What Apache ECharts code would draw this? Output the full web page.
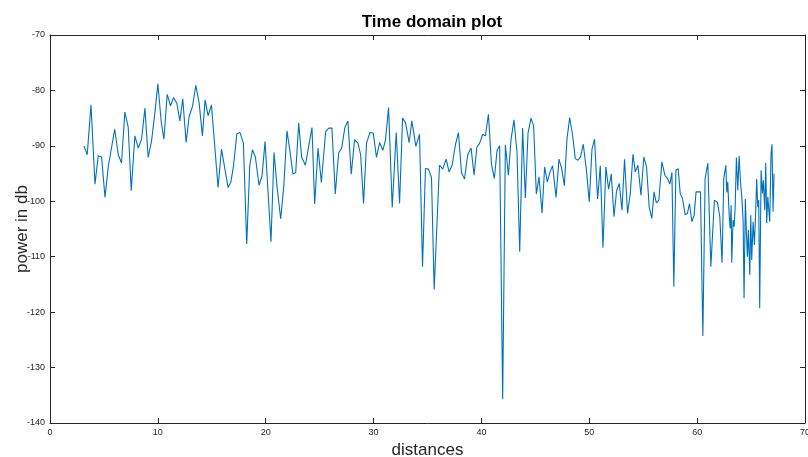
<!DOCTYPE html>
<html>
<head>
<meta charset="utf-8">
<script src="https://cdn.jsdelivr.net/npm/echarts@6/dist/echarts.min.js"></script>
<style>
  html, body { margin: 0; padding: 0; background: #ffffff; }
  #chart { width: 808px; height: 457px; }
</style>
</head>
<body>
<div id="chart"></div>
<script>
// Measured power (dB) against distance
const distances = [
  3.15, 3.45, 3.8, 4.17, 4.47, 4.78, 5.1, 5.4, 6.0, 6.33, 6.63, 6.94, 7.25, 7.53, 7.87, 8.18,
  8.49, 8.8, 9.1, 9.41, 9.72, 10.0, 10.31, 10.56, 10.87, 11.17, 11.45, 11.76, 12.04, 12.31,
  12.62, 12.9, 13.21, 13.52, 13.83, 14.13, 14.38, 14.66, 14.97, 15.58, 15.9, 16.51, 16.76,
  17.0, 17.33, 17.62, 17.93, 18.24, 18.52, 18.77, 19.04, 19.38, 19.66, 19.94, 20.49, 20.77,
  21.05, 21.39, 21.67, 21.97, 22.25, 22.53, 22.78, 23.06, 23.33, 23.68, 23.98, 24.29, 24.54,
  24.85, 25.16, 25.56, 25.86, 26.14, 26.45, 26.76, 27.04, 27.34, 27.62, 27.93, 28.24, 28.55,
  28.8, 29.07, 29.35, 29.66, 29.97, 30.27, 30.56, 30.86, 31.11, 31.39, 31.73, 32.1, 32.41,
  32.69, 32.96, 33.3, 33.55, 33.92, 34.26, 34.54, 34.81, 35.09, 35.37, 35.62, 36.11, 36.42,
  36.73, 37.0, 37.28, 37.59, 37.87, 38.15, 38.43, 38.73, 39.04, 39.32, 39.57, 39.84, 40.12,
  40.37, 40.65, 40.93, 41.2, 41.45, 41.69, 41.97, 42.22, 42.5, 42.75, 43.02, 43.3, 43.55,
  43.82, 44.07, 44.32, 44.6, 44.84, 45.09, 45.34, 45.62, 45.86, 46.11, 46.36, 46.6, 46.92,
  47.19, 47.44, 47.69, 47.93, 48.18, 48.45, 48.7, 48.95, 49.19, 49.44, 49.72, 50.0, 50.25,
  50.49, 50.77, 51.02, 51.27, 51.54, 51.79, 52.04, 52.29, 52.53, 52.78, 53.03, 53.27, 53.55,
  53.8, 54.05, 54.26, 54.51, 54.79, 55.06, 55.31, 55.56, 55.8, 56.0, 56.22, 56.45, 56.73,
  57.01, 57.25, 57.47, 57.66, 57.84, 58.03, 58.24, 58.43, 58.64, 58.89, 59.1, 59.29, 59.51,
  59.72, 59.9, 60.12, 60.31, 60.53, 60.74, 60.99, 61.27, 61.6, 61.88, 62.1, 62.31, 62.47,
  62.66, 62.75, 62.84, 62.96, 63.06, 63.15, 63.21, 63.33, 63.43, 63.52, 63.64, 63.77, 63.89,
  64.01, 64.14, 64.26, 64.35, 64.47, 64.57, 64.66, 64.75, 64.88, 64.97, 65.06, 65.19, 65.31,
  65.43, 65.52, 65.62, 65.71, 65.8, 65.93, 66.05, 66.14, 66.27, 66.36, 66.45, 66.55, 66.64,
  66.73, 66.85, 66.94, 67.04, 67.13
];

const powerDb = [
  -90.0, -91.6, -82.6, -96.9, -91.8, -92.0, -99.3, -93.8, -87.0, -91.6, -93.1, -83.9, -86.6, -98.1, -88.2, -90.4,
  -88.8, -83.2, -92.1, -89.2, -84.1, -78.8, -85.6, -88.8, -80.7, -82.8, -81.3, -82.3, -85.5, -81.5,
  -89.4, -84.7, -82.9, -79.1, -82.3, -88.2, -81.7, -84.6, -82.6, -97.5, -90.6, -97.5, -96.6,
  -93.8, -87.8, -87.6, -89.5, -107.7, -93.6, -90.7, -92.0, -97.1, -95.4, -89.2, -107.3, -91.2,
  -97.4, -103.2, -97.4, -87.3, -91.0, -95.1, -94.8, -85.9, -92.0, -93.5, -90.1, -86.7, -100.5,
  -90.4, -96.6, -87.4, -86.8, -86.8, -98.7, -91.3, -90.4, -86.7, -85.5, -95.1, -88.9, -89.5,
  -91.6, -100.4, -89.5, -87.6, -87.7, -92.1, -89.4, -90.8, -88.9, -83.1, -101.1, -87.6, -100.4,
  -85.0, -85.8, -89.4, -85.5, -90.1, -87.9, -111.8, -94.1, -94.2, -95.7, -115.9, -93.5, -94.2,
  -92.4, -94.7, -93.5, -89.8, -87.6, -94.8, -96.0, -91.6, -90.4, -95.3, -90.3, -89.5, -87.9,
  -88.2, -84.3, -93.3, -95.9, -90.8, -90.0, -135.7, -89.8, -95.3, -88.8, -85.3, -91.3, -109.1,
  -86.8, -99.4, -87.7, -85.0, -86.4, -98.7, -95.6, -102.1, -93.8, -96.5, -94.7, -93.6, -99.3,
  -92.4, -94.1, -97.2, -88.8, -84.9, -88.0, -92.3, -92.6, -92.0, -89.7, -94.1, -100.1, -90.6,
  -88.8, -99.6, -93.6, -108.4, -93.8, -97.8, -95.1, -102.8, -98.1, -96.8, -101.6, -92.4, -102.2,
  -98.6, -91.5, -94.7, -93.5, -98.9, -92.0, -93.8, -101.1, -103.1, -98.3, -100.3, -99.8, -92.9,
  -95.3, -95.9, -96.9, -94.8, -115.4, -94.4, -94.1, -98.6, -99.5, -102.4, -102.2, -100.4, -103.7,
  -102.5, -98.3, -98.3, -98.3, -124.3, -95.9, -93.1, -111.8, -99.8, -100.2, -102.8, -111.1, -95.9,
  -93.5, -98.4, -96.5, -102.2, -104.9, -100.7, -111.1, -103.4, -104.6, -101.3, -92.1, -98.0, -91.8,
  -96.2, -99.2, -103.4, -117.5, -99.6, -105.8, -110.0, -105.2, -113.3, -102.5, -110.6, -103.7, -107.9,
  -101.6, -96.0, -101.0, -99.8, -119.3, -94.4, -98.6, -96.2, -101.6, -93.1, -103.9, -99.2, -98.9,
  -103.7, -91.5, -89.7, -101.9, -95.0
];

const xTicks = { min: 0, max: 70, step: 10 };
const yTicks = { min: -140, max: -70, step: 10 };

const FONT = 'Liberation Sans, Arial, sans-serif';
const AXIS_COLOR = '#262626';

const points = distances.map((d, i) => [d, powerDb[i]]);

const baseAxis = {
  axisLine: { show: true, onZero: false, lineStyle: { color: AXIS_COLOR, width: 1 } },
  axisTick: { show: true, inside: true, length: 5, lineStyle: { color: AXIS_COLOR } },
  splitLine: { show: false },
  axisLabel: { color: AXIS_COLOR, fontSize: 9, fontFamily: FONT }
};

const chart = echarts.init(document.getElementById('chart'), null, { renderer: 'canvas' });

chart.setOption({
  animation: false,
  backgroundColor: '#ffffff',
  title: {
    text: 'Time domain plot',
    left: 427,
    top: 9,
    textAlign: 'center',
    textStyle: { fontFamily: FONT, fontSize: 17, fontWeight: 'bold', color: '#000000' }
  },
  grid: { left: 50, right: 3, top: 35, bottom: 34, containLabel: false, outerBoundsMode: 'none' },
  xAxis: [
    Object.assign({}, baseAxis, {
      type: 'value', position: 'bottom',
      min: xTicks.min, max: xTicks.max, interval: xTicks.step,
      name: 'distances', nameLocation: 'middle', nameGap: 19,
      nameTextStyle: { fontFamily: FONT, fontSize: 17, color: AXIS_COLOR },
      axisLabel: Object.assign({}, baseAxis.axisLabel, { margin: 5 })
    }),
    Object.assign({}, baseAxis, {
      type: 'value', position: 'top',
      min: xTicks.min, max: xTicks.max, interval: xTicks.step,
      axisLabel: { show: false }
    })
  ],
  yAxis: [
    Object.assign({}, baseAxis, {
      type: 'value', position: 'left',
      min: yTicks.min, max: yTicks.max, interval: yTicks.step,
      name: 'power in db', nameLocation: 'middle', nameGap: 19, nameMoveOverlap: false,
      nameTextStyle: { fontFamily: FONT, fontSize: 17, color: AXIS_COLOR },
      axisLabel: Object.assign({}, baseAxis.axisLabel, { margin: 5 })
    }),
    Object.assign({}, baseAxis, {
      type: 'value', position: 'right',
      min: yTicks.min, max: yTicks.max, interval: yTicks.step,
      axisLabel: { show: false }
    })
  ],
  series: [{
    type: 'line',
    data: points,
    xAxisIndex: 0,
    yAxisIndex: 0,
    showSymbol: false,
    lineStyle: { color: '#0072BD', width: 1.1 },
    itemStyle: { color: '#0072BD' }
  }]
});
</script>
</body>
</html>
